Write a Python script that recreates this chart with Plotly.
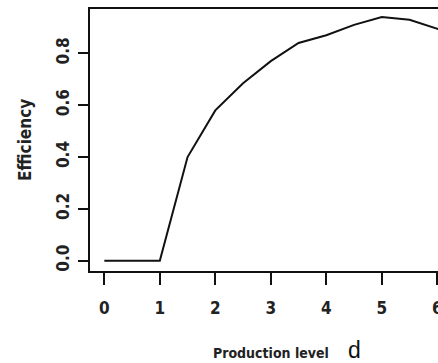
import plotly.graph_objects as go

production_level = [0, 0.5, 1, 1.5, 2, 2.5, 3, 3.5, 4, 4.5, 5, 5.5, 6, 6.5]
efficiency = [0, 0, 0, 0.40, 0.58, 0.685, 0.77, 0.84, 0.87, 0.91, 0.94, 0.93, 0.895, 0.86]
x_ticks = [0, 1, 2, 3, 4, 5, 6]
y_ticks = [0.0, 0.2, 0.4, 0.6, 0.8]
y_tick_labels = ["0.0", "0.2", "0.4", "0.6", "0.8"]

FONT = "DejaVu Sans Condensed, DejaVu Sans, sans-serif"

fig = go.Figure()
fig.add_trace(go.Scatter(x=production_level, y=efficiency, mode="lines",
                         line=dict(color="#111111", width=2), showlegend=False,
                         cliponaxis=True, hoverinfo="skip"))

fig.update_layout(
    width=438, height=363,
    margin=dict(l=90, r=0, t=9, b=92, autoexpand=False),
    paper_bgcolor="white", plot_bgcolor="white",
    font=dict(family=FONT, color="#222222", size=17),
    xaxis=dict(range=[-0.258, 6.013], tickvals=x_ticks, ticktext=[str(v) for v in x_ticks],
               automargin=False, ticklabeloverflow="allow",
               showgrid=False, zeroline=False, showline=True, linecolor="#111111", linewidth=2,
               mirror=True, ticks="outside", ticklen=12, tickwidth=2, tickcolor="#111111",
               ticklabelstandoff=9, tickfont=dict(size=17, family=FONT, weight="bold")),
    yaxis=dict(range=[-0.0397, 0.9712], tickvals=y_ticks, ticktext=y_tick_labels,
               automargin=False,
               showgrid=False, zeroline=False, showline=True, linecolor="#111111", linewidth=2,
               mirror=False, ticks="outside", ticklen=10, tickwidth=2, tickcolor="#111111",
               tickangle=-90, ticklabelstandoff=2, tickfont=dict(size=17, family=FONT, weight="bold")),
    annotations=[
        dict(text="Efficiency", xref="paper", x=0, xshift=-65, yref="y", y=0.466,
             textangle=-90, showarrow=False, xanchor="center", yanchor="middle",
             font=dict(size=17, family=FONT, color="#222222", weight="bold")),
        dict(text="Production level", xref="x", x=3, yref="paper", y=0, yshift=-82,
             showarrow=False, xanchor="center", yanchor="middle",
             font=dict(size=14, family=FONT, color="#222222", weight="bold")),
        dict(text="d", xref="x", x=4.517, yref="paper", y=0, yshift=-79,
             showarrow=False, xanchor="center", yanchor="middle",
             font=dict(size=23, family="Liberation Sans, Arial, sans-serif", color="#111111")),
    ],
)

fig.write_html("out.html", config={"displayModeBar": False, "staticPlot": True},
               post_script="document.body.style.margin='0';document.body.style.overflow='hidden';")
